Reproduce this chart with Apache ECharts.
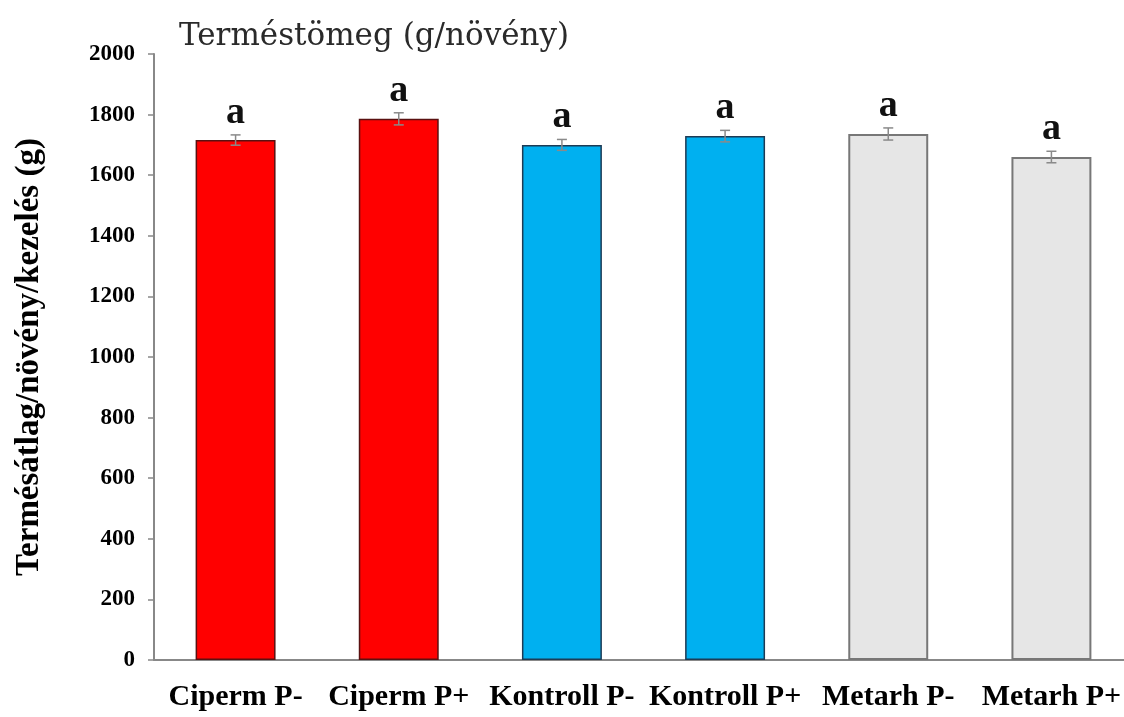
<!DOCTYPE html>
<html>
<head>
<meta charset="utf-8">
<script src="https://cdn.jsdelivr.net/npm/echarts@6/dist/echarts.min.js"></script>
<style>
  html, body { margin: 0; padding: 0; background: #fff; }
  #chart { width: 1124px; height: 717px; }
</style>
</head>
<body>
<div id="chart"></div>
<script>
// data
const categories = ['Ciperm P-', 'Ciperm P+', 'Kontroll P-', 'Kontroll P+', 'Metarh P-', 'Metarh P+'];
const means = [1716, 1786, 1700, 1729, 1736, 1660];
const errors = [17, 20, 18, 19, 20, 19];
const letters = ['a', 'a', 'a', 'a', 'a', 'a'];
const yTicks = [0, 200, 400, 600, 800, 1000, 1200, 1400, 1600, 1800, 2000];

const fills = ['#ff0000', '#ff0000', '#00b0f0', '#00b0f0', '#e6e6e6', '#e6e6e6'];
const borders = ['#5a1010', '#5a1010', '#1d3b55', '#1d3b55', '#777777', '#777777'];

const serif = '"Liberation Serif", "Times New Roman", serif';

var chart = echarts.init(document.getElementById('chart'));

const barData = means.map((v, i) => ({
    value: v,
    itemStyle: {color: fills[i], borderColor: borders[i], borderWidth: i >= 4 ? 2 : 1.5}
}));

const errData = means.map((v, i) => [i, v, errors[i], letters[i]]);

const renderError = (params, api) => {
    const x = api.coord([api.value(0), 0])[0];
    const hi = api.coord([api.value(0), api.value(1) + api.value(2)])[1];
    const lo = api.coord([api.value(0), api.value(1) - api.value(2)])[1];
    const cap = 5;
    const st = {stroke: '#8a8a8a', lineWidth: 1.5};
    return {
        type: 'group',
        children: [
            {type: 'line', shape: {x1: x, y1: hi, x2: x, y2: lo}, style: st},
            {type: 'line', shape: {x1: x - cap, y1: hi, x2: x + cap, y2: hi}, style: st},
            {type: 'line', shape: {x1: x - cap, y1: lo, x2: x + cap, y2: lo}, style: st},
            {
                type: 'text',
                style: {
                    text: api.value(3),
                    x: x,
                    y: hi - 3,
                    align: 'center',
                    verticalAlign: 'bottom',
                    font: 'bold 38px ' + serif,
                    fill: '#111'
                }
            }
        ]
    };
};

var option = {
    animation: false,
    backgroundColor: '#fff',
    title: {
        text: 'Terméstömeg (g/növény)',
        left: 174,
        top: 16,
        textStyle: {
            fontFamily: '"DejaVu Serif", serif',
            fontWeight: 'normal',
            fontSize: 31,
            color: '#2a2a2a'
        }
    },
    grid: {left: 154, right: -9, top: 54, bottom: 57, containLabel: false, outerBoundsMode: 'none'},
    xAxis: {
        type: 'category',
        data: categories,
        axisLine: {lineStyle: {color: '#888', width: 2}},
        axisTick: {show: false},
        axisLabel: {
            interval: 0,
            margin: 22,
            fontFamily: serif,
            fontWeight: 'bold',
            fontSize: 30,
            color: '#000'
        }
    },
    yAxis: {
        type: 'value',
        min: yTicks[0],
        max: yTicks[yTicks.length - 1],
        interval: 200,
        name: 'Termésátlag/növény/kezelés (g)',
        nameLocation: 'middle',
        nameGap: 108,
        nameTextStyle: {
            fontFamily: serif,
            fontWeight: 'bold',
            fontSize: 33,
            color: '#000'
        },
        axisLine: {show: true, lineStyle: {color: '#888', width: 2}},
        axisTick: {show: true, length: 6, lineStyle: {color: '#888', width: 1.5}},
        splitLine: {show: false},
        axisLabel: {
            margin: 19,
            fontFamily: serif,
            fontWeight: 'bold',
            fontSize: 23,
            color: '#000',
            formatter: v => String(v)
        }
    },
    series: [
        {
            type: 'bar',
            data: barData,
            barWidth: '49%'
        },
        {
            type: 'custom',
            renderItem: renderError,
            data: errData,
            encode: {x: 0, y: 1},
            z: 5
        }
    ]
};

chart.setOption(option);
</script>
</body>
</html>
